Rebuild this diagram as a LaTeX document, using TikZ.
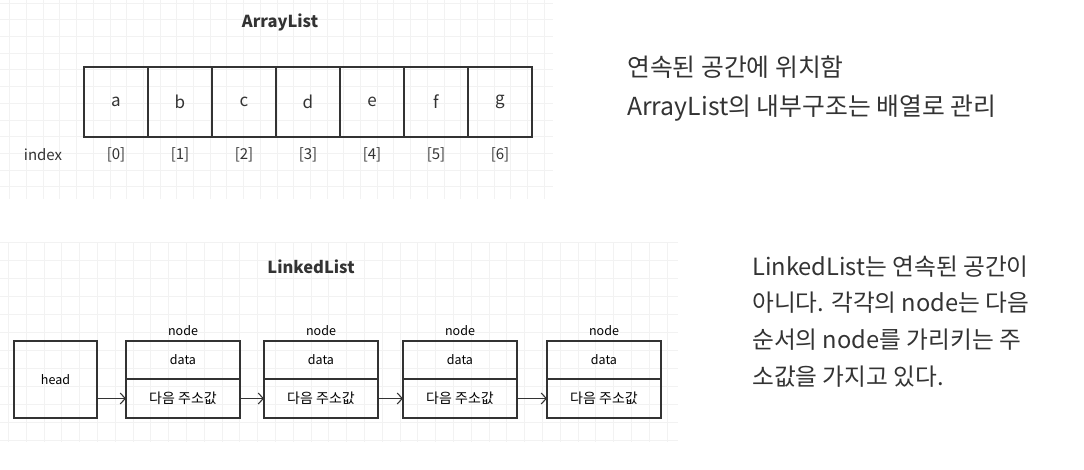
\documentclass[tikz,border=0pt]{standalone}
\usepackage{fontspec}
\setmainfont{Noto Sans CJK KR}
\usepackage{xcolor}
\usepackage{tikz}
\usetikzlibrary{positioning, arrows.meta}

\definecolor{ink}{HTML}{333333}
\definecolor{gridc}{HTML}{F2F2F2}

\begin{document}
\begin{tikzpicture}[x=1pt, y=-1pt,
    gridline/.style={gridc, line width=0.7pt},
    cell/.style={draw=ink, line width=1.2pt, minimum width=64pt, minimum height=70pt,
        inner sep=0pt, outer sep=0pt, font=\fontsize{17}{20}\selectfont, text=ink},
    idx/.style={font=\fontsize{15}{18}\selectfont, text=ink},
    title/.style={font=\bfseries\fontsize{16.5}{19}\selectfont, text=ink},
    box/.style={draw=ink, line width=1.2pt, minimum width=114pt, inner sep=0pt,
        outer sep=0pt, font=\fontsize{12.5}{15}\selectfont},
    tag/.style={font=\fontsize{12.5}{15}\selectfont, inner sep=1pt},
    note/.style={font=\fontsize{23.7}{28}\selectfont, text=ink, inner sep=0pt, anchor=west},
    link/.style={-{Straight Barb[length=5pt, width=11pt]}, line width=1.1pt, ink}]
    \useasboundingbox (0,0) rectangle (1084,469);

    % 1. Lưới nền
    \foreach \x in {9.7,26.4,...,553} \draw[gridline] (\x,0) -- (\x,199);
    \foreach \y in {3,19.7,...,199} \draw[gridline] (0,\y) -- (553,\y);
    \foreach \x in {8.3,26.1,...,678} \draw[gridline] (\x,242) -- (\x,442);
    \foreach \y in {242,260,...,442} \draw[gridline] (0,\y) -- (678,\y);

    % 2. ArrayList
    \node[title] (arr) at (280,22) {ArrayList};
    \foreach \l [count=\i from 0] in {a,b,c,d,e,f,g} {
        \node[cell] (c\i) at ({116+64*\i},102) {\l};
        \node[idx] (i\i) at ({116+64*\i},155) {[\i]};
    }
    \node[idx] (index) at (43,155) {index};

    % 3. LinkedList
    \node[title] (lnk) at (311,267) {LinkedList};
    \node[box, minimum width=83pt, minimum height=77pt] (head) at (55.5,379.5) {head};
    \foreach \xc [count=\i] in {183,321,460,604} {
        \node[box, minimum height=38pt] (d\i) at (\xc,360) {data};
        \node[box, minimum height=39pt, below=0pt of d\i, font=\fontsize{14}{16}\selectfont] (p\i) {다음 주소값};
        \node[tag, above=4pt of d\i] (n\i) {node};
    }
    \draw[link] (head.east |- p1.west) -- (p1.west);
    \draw[link] (p1.east) -- (p2.west);
    \draw[link] (p2.east) -- (p3.west);
    \draw[link] (p3.east) -- (p4.west);

    % 4. Giải thích
    \node[note, font=\fontsize{24.8}{28}\selectfont] (t1) at (627,67) {연속된 공간에 위치함};
    \node[note, font=\fontsize{24.8}{28}\selectfont] (t2) at (627,108) {ArrayList의 내부구조는 배열로 관리};
    \node[note] (t3) at (752,267) {LinkedList는 연속된 공간이};
    \node[note] (t4) at (752,303) {아니다. 각각의 node는 다음};
    \node[note] (t5) at (752,340) {순서의 node를 가리키는 주};
    \node[note] (t6) at (752,377) {소값을 가지고 있다.};
\end{tikzpicture}
\end{document}
